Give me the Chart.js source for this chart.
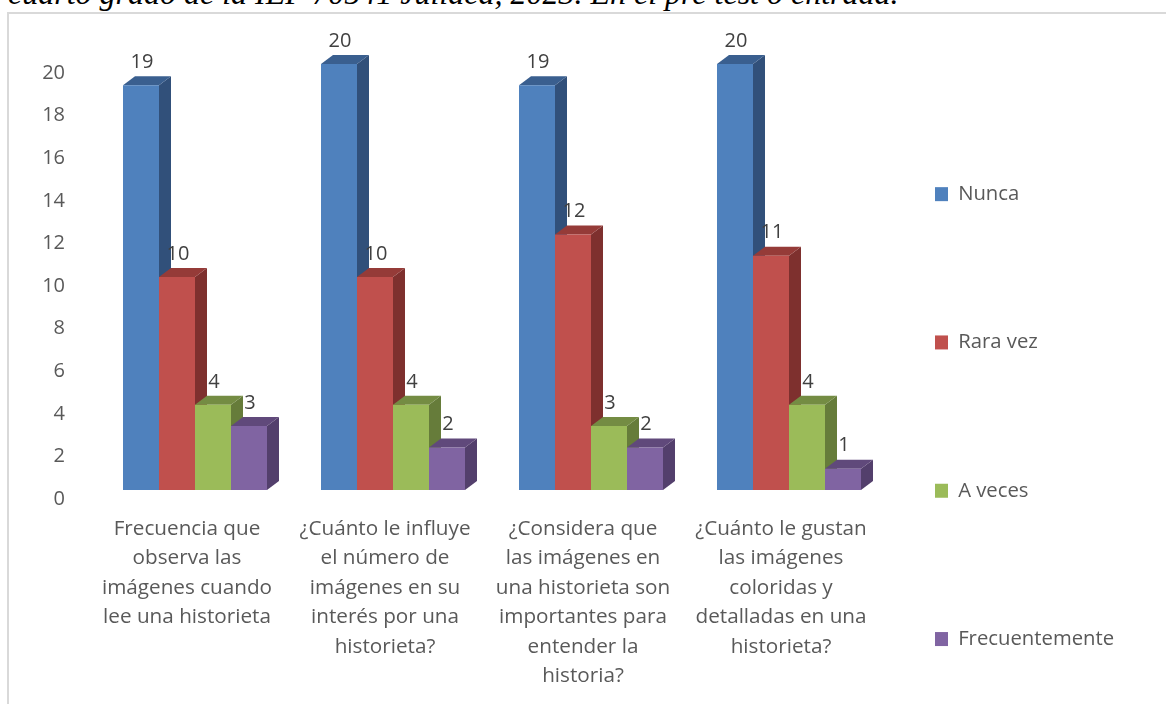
<!DOCTYPE html>
<html><head><meta charset="utf-8">
<script src="https://cdn.jsdelivr.net/npm/chart.js@4"></script>
<style>
html,body{margin:0;padding:0;background:#fff;overflow:hidden}
#wrap{position:relative;width:1166px;height:704px;overflow:hidden}
#cap{position:absolute;left:8px;top:-25.5px;font:italic 32px "Liberation Serif",serif;color:#000;white-space:nowrap}
#frame{position:absolute;left:7px;top:12px;width:1159px;height:692px;border-left:2px solid #d9d9d9;border-top:2px solid #d9d9d9;box-sizing:border-box;background:#fff}
canvas{position:absolute;left:0;top:0}
</style></head><body>
<div id="wrap">
<div id="frame"></div>
<div id="cap">cuarto grado de la IEP 70541 Juliaca, 2023. En el pre test o entrada.</div>
<canvas id="c" width="1166" height="860"></canvas>
</div>
<script>
const categories = [
  ["Frecuencia que","observa las","imágenes cuando","lee una historieta"],
  ["¿Cuánto le influye","el número de","imágenes en su","interés por una","historieta?"],
  ["¿Considera que","las imágenes en","una historieta son","importantes para","entender la","historia?"],
  ["¿Cuánto le gustan","las imágenes","coloridas y","detalladas en una","historieta?"]
];
const nunca = [19,20,19,20];
const raraVez = [10,10,12,11];
const aVeces = [4,4,3,4];
const frecuentemente = [3,2,2,1];
const seriesNames = ["Nunca","Rara vez","A veces","Frecuentemente"];
const frontColors = ["#4F81BD","#C0504D","#9BBB59","#8064A2"];
const sideColors = ["#31507A","#7E302E","#667C3A","#533F6C"];
const topColors = ["#3A5F8F","#953B38","#748C43","#60497B"];
const FONT = '"Open Sans", sans-serif';
const DX = 12, DY = 9;

const bar3d = {
  id:'bar3d',
  beforeDatasetDraw(){ return false; },
  afterDatasetsDraw(chart){
    const ctx = chart.ctx;
    chart.data.datasets.forEach((ds,i)=>{
      chart.getDatasetMeta(i).data.forEach((el,j)=>{
        const p = el.getProps(['x','y','base','width'],true);
        const l = p.x-p.width/2, r = p.x+p.width/2;
        ctx.fillStyle = sideColors[i];
        ctx.beginPath();ctx.moveTo(r,p.y);ctx.lineTo(r+DX,p.y-DY);ctx.lineTo(r+DX,p.base-DY);ctx.lineTo(r,p.base);ctx.closePath();ctx.fill();
        ctx.fillStyle = topColors[i];
        ctx.beginPath();ctx.moveTo(l,p.y);ctx.lineTo(l+DX,p.y-DY);ctx.lineTo(r+DX,p.y-DY);ctx.lineTo(r,p.y);ctx.closePath();ctx.fill();
        el.draw(ctx);
      });
    });
    ctx.save();
    ctx.font = '20px '+FONT;
    ctx.fillStyle = '#404040';
    ctx.textAlign = 'center';
    ctx.textBaseline = 'middle';
    chart.data.datasets.forEach((ds,i)=>{
      chart.getDatasetMeta(i).data.forEach((el,j)=>{
        const p = el.getProps(['x','y'],true);
        ctx.fillText(String(ds.data[j]), p.x+1, p.y-23);
      });
    });
    ctx.restore();
  },
  beforeDraw(chart){
    const l = chart.legend;
    const pad = l.options.labels.padding;
    l.left = 935 - pad;
    l.right = 1166;
    const dy = 184 - l.top - pad;
    l.top += dy; l.bottom += dy;
  }
};

new Chart(document.getElementById('c'),{
  type:'bar',
  data:{labels:categories,datasets:[nunca,raraVez,aVeces,frecuentemente].map((d,i)=>({
    label:seriesNames[i],data:d,backgroundColor:frontColors[i],borderWidth:0,
    categoryPercentage:0.7273,barPercentage:1
  }))},
  options:{
    responsive:false,animation:false,
    layout:{padding:{top:64,left:0,right:0,bottom:0}},
    plugins:{
      tooltip:{enabled:false},
      legend:{position:'right',align:'start',maxWidth:278,
        labels:{boxWidth:13,boxHeight:14,padding:128,color:'#595959',font:{family:FONT,size:20.3}}}
    },
    scales:{
      x:{grid:{display:false},border:{display:false},
        afterFit(s){s.height=370;},
        ticks:{maxRotation:0,minRotation:0,autoSkip:false,padding:16,labelOffset:-8,color:'#595959',
          font:{family:FONT,size:20.7,lineHeight:'29.5px'}}},
      y:{min:0,max:20,grid:{display:false},border:{display:false},
        afterFit(s){s.width=96;},
        ticks:{stepSize:2,padding:23,labelOffset:9,color:'#595959',font:{family:FONT,size:20}}}
    }
  },
  plugins:[bar3d]
});
</script></body></html>
